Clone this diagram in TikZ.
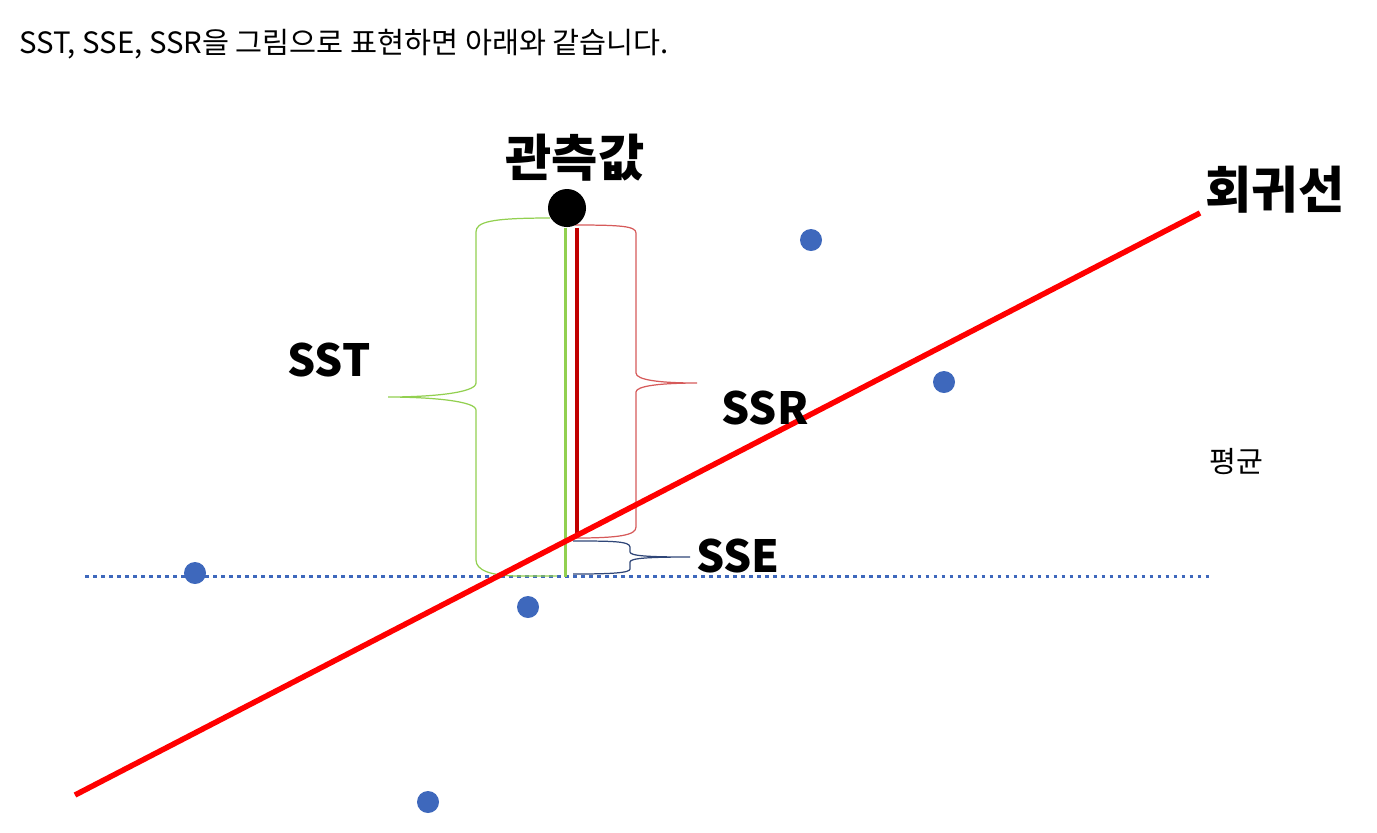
\documentclass[tikz,border=0pt]{standalone}
\usepackage{fontspec}
\setmainfont{Noto Sans CJK KR}
\definecolor{regred}{RGB}{255,0,0}
\definecolor{ssrdark}{RGB}{192,0,0}
\definecolor{sstgreen}{RGB}{146,208,80}
\definecolor{bracered}{RGB}{214,90,90}
\definecolor{ssenavy}{RGB}{47,70,120}
\definecolor{ptblue}{RGB}{62,104,188}

\begin{document}
\begin{tikzpicture}[x=0.01cm,y=-0.01cm,
  bigtxt/.style={font=\fontsize{14.3}{16}\selectfont\bfseries},
  midtxt/.style={font=\fontsize{12.6}{14}\selectfont\bfseries},
  bracepath/.style={line width=0.35pt}]

  \useasboundingbox (0,0) rectangle (1377,832);

  \node[anchor=base west, inner sep=0pt, font=\fontsize{8.35}{10}\selectfont] (title) at (19,53)
    {SST, SSE, SSR을 그림으로 표현하면 아래와 같습니다.};

  % mean line
  \coordinate (meanA) at (85,576);
  \coordinate (meanB) at (1210,576);
  \draw[ptblue, line width=0.03cm, dash pattern=on 0.035cm off 0.045cm] (meanA) -- (meanB);
  \node[font=\fontsize{8.3}{10}\selectfont] (meanlbl) at (1236,462) {평균};

  % braces
  \draw[bracepath, sstgreen] (550,218) .. controls (490,218) and (476,222) .. (476,232)
    -- (476,383) .. controls (476,393) and (430,397) .. (388,397)
    .. controls (430,397) and (476,401) .. (476,410)
    -- (476,560) .. controls (476,570) and (490,576) .. (520,576) -- (557,576);
  \draw[bracepath, bracered] (575,225) .. controls (620,225) and (636,226) .. (636,233)
    -- (636,373) .. controls (636,380) and (660,383) .. (697,383)
    .. controls (660,383) and (636,386) .. (636,392)
    -- (636,527) .. controls (636,535) and (620,538) .. (575,538);
  \draw[bracepath, ssenavy] (573,541) .. controls (610,541) and (630,541) .. (630,547)
    -- (630,552) .. controls (630,556) and (650,557) .. (690,557)
    .. controls (650,557) and (630,558) .. (630,562)
    -- (630,569) .. controls (630,573) and (610,574) .. (573,574);

  % observed value
  \node[circle, fill=black, inner sep=0pt, minimum size=0.38cm] (obsdot) at (567,208) {};
  \node[bigtxt] (obslbl) at (575,158) {관측값};
  \coordinate (sstfoot) at (565,577);
  \coordinate (ssrfoot) at (577,537);
  \draw[sstgreen, line width=0.03cm] (obsdot.south -| sstfoot) -- (sstfoot);
  \draw[ssrdark, line width=0.035cm] (obsdot.south -| ssrfoot) -- (ssrfoot);

  % regression line
  \coordinate (regA) at (75,795);
  \coordinate (regB) at (1200,213);
  \draw[regred, line width=0.055cm] (regA) -- (regB);
  \node[bigtxt] (reglbl) at (1275,190) {회귀선};

  \node[midtxt] (sst) at (329,360) {SST};
  \node[midtxt] (ssr) at (765,408) {SSR};
  \node[midtxt] (sse) at (738,556) {SSE};

  \foreach \px/\py in {195/573, 528/607, 428/802, 811/240, 944/382}{
    \fill[ptblue] (\px,\py) circle [radius=0.11cm];
  }
\end{tikzpicture}
\end{document}
